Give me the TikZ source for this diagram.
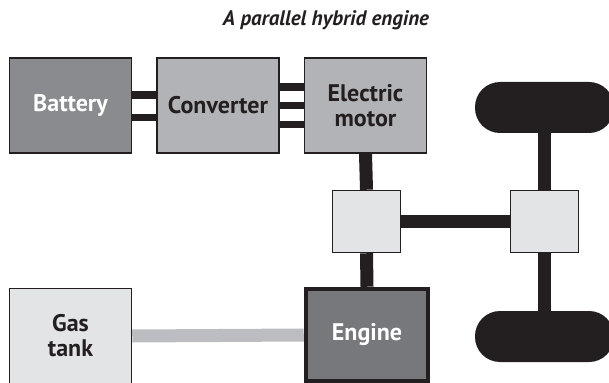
\documentclass[tikz,border=0pt]{standalone}
\usepackage{fontspec}
\setmainfont{PT Sans}
\usetikzlibrary{positioning}
\definecolor{ink}{HTML}{231F20}
\definecolor{battgray}{HTML}{8A8B8E}
\definecolor{midgray}{HTML}{B2B3B6}
\definecolor{lightgray}{HTML}{E3E4E6}
\definecolor{enggray}{HTML}{77787B}
\definecolor{pipegray}{HTML}{BCBDC0}

\begin{document}
\begin{tikzpicture}[x=1pt, y=-1pt,
  unit/.style={draw=ink, line width=1.5pt, fill=midgray, text=ink,
    minimum width=122pt, minimum height=95pt, inner sep=0pt, align=center,
    font=\fontsize{24}{25}\selectfont\bfseries},
  hub/.style={draw=ink, line width=1.5pt, fill=lightgray,
    minimum width=68pt, minimum height=62pt},
  wheel/.style={fill=ink, rounded corners=25pt,
    minimum width=139pt, minimum height=51pt},
  shaft/.style={draw=ink, line width=13pt},
  wire/.style={draw=ink, line width=7.5pt},
  fuel/.style={draw=pipegray, line width=13pt},
  lab/.style={font=\fontsize{21}{21}\selectfont\bfseries\itshape, text=ink}]
  \useasboundingbox (0,0) rectangle (609,382);
  \clip (0,0) rectangle (609,382);
  % title
  \node[lab] (title) at (326,20) {A parallel hybrid engine};
  % electric side
  \node[unit, fill=battgray, text=white] (battery) at (70.5,105.5) {Battery};
  \node[unit, right=24pt of battery] (conv) {Converter};
  \node[unit, right=24pt of conv] (motor) {Electric\\motor};
  % gearboxes
  \node[hub] (gearL) at (366.5,221.5) {};
  \node[hub] (gearR) at (544.5,221.5) {};
  % fuel side
  \node[unit, fill=lightgray] (tank) at (70.5,336) {Gas\\tank};
  \node[unit, fill=enggray, text=white, line width=4.5pt,
    minimum width=122pt, minimum height=92pt] (engine) at (367,335) {Engine};
  % wheels
  \node[wheel] (wheelT) at (544.5,107.5) {};
  \node[wheel] (wheelB) at (544.5,336.5) {};
  % wires
  \draw[wire] ([yshift=10.5pt]battery.east) -- ([yshift=10.5pt]conv.west);
  \draw[wire] ([yshift=-12pt]battery.east) -- ([yshift=-12pt]conv.west);
  \draw[wire] ([yshift=18.5pt]conv.east) -- ([yshift=18.5pt]motor.west);
  \draw[wire] (conv.east) -- (motor.west);
  \draw[wire] ([yshift=-19pt]conv.east) -- ([yshift=-19pt]motor.west);
  % shafts
  \draw[shaft] (motor.south) -- (gearL.north);
  \draw[shaft] (gearL.south) -- (engine.north);
  \draw[shaft] (gearL.east) -- (gearR.west);
  \draw[shaft] (wheelT.south) -- (gearR.north);
  \draw[shaft] (gearR.south) -- (wheelB.north);
  % fuel line
  \draw[fuel] (tank.east) -- (engine.west);
\end{tikzpicture}
\end{document}
